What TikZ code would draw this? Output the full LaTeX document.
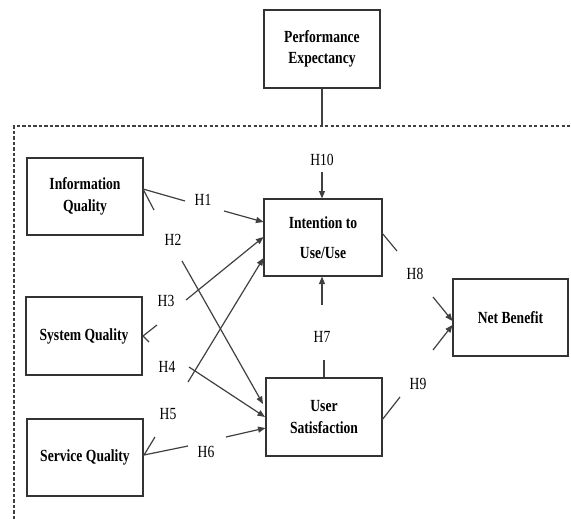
\documentclass[tikz,border=0pt]{standalone}
\usepackage{fontspec}
\setmainfont[FakeStretch=0.8]{Liberation Serif}
\usetikzlibrary{arrows.meta}
\begin{document}
\begin{tikzpicture}[x=1pt,y=-1pt,
  box/.style={draw=black!80,line width=1.2pt,inner sep=0pt,align=center,
    font=\fontsize{17}{21.5}\selectfont\bfseries},
  lbl/.style={inner sep=0pt,font=\fontsize{17}{20}\selectfont},
  ln/.style={draw=black!75,line width=1.2pt},
  arr/.style={ln,-{Triangle[length=7.5pt,width=6pt]}}]
\useasboundingbox (0,0) rectangle (571,519);
% boxes
\node[box,minimum width=116pt,minimum height=78pt] (pe) at (322,49) {Performance\\Expectancy};
\node[box,minimum width=116pt,minimum height=77pt] (iq) at (85,196.5) {Information\\Quality};
\node[box,minimum width=116pt,minimum height=78pt] (sq) at (84,336) {System Quality};
\node[box,minimum width=116pt,minimum height=77pt] (svq) at (85,457.5) {Service Quality};
\node[box,minimum width=118pt,minimum height=77pt] (itu) at (323,237.5) {Intention to\\[8pt]Use/Use};
\node[box,minimum width=116pt,minimum height=78pt] (us) at (324,417) {User\\Satisfaction};
\node[box,minimum width=115pt,minimum height=77pt] (nb) at (510.5,317.5) {Net Benefit};
% dashed frame
\coordinate (dtop) at (322,126);
\draw[draw=black!75,line width=1.1pt,dash pattern=on 3.2pt off 2.3pt] (14,519) -- (14,126) -- (571,126);
\draw[ln] (pe.south) -- (dtop);
% labels
\node[lbl] (h10) at (322,160) {H10};
\node[lbl] (h1) at (203,200) {H1};
\node[lbl] (h2) at (173,240) {H2};
\node[lbl] (h3) at (166,301) {H3};
\node[lbl] (h4) at (167,367) {H4};
\node[lbl] (h5) at (168,414) {H5};
\node[lbl] (h6) at (206,452) {H6};
\node[lbl] (h7) at (322,337) {H7};
\node[lbl] (h8) at (415,274) {H8};
\node[lbl] (h9) at (418,384) {H9};
% coordinates
\coordinate (iqp) at (143,189);
\coordinate (sqp) at (143,336);
\coordinate (svqp) at (144,455);
% connectors
\draw[arr] (322,172) -- (322,198.5);
\draw[ln] (iqp) -- (185,201);
\draw[ln] (iqp) -- (154,210);
\draw[arr] (224,211) -- (263.5,222);
\draw[arr] (182,261) -- (263,404);
\draw[arr] (186,300) -- (263.5,237);
\draw[ln] (157,325) -- (sqp) -- (149,342);
\draw[arr] (188,382) -- (263.5,258);
\draw[arr] (189,367) -- (265,417);
\draw[ln] (155,437) -- (svqp) -- (188,446);
\draw[arr] (226,437) -- (265.5,428);
\draw[ln] (us.north) -- (324,360);
\draw[arr] (322,305) -- (322,276.5);
\draw[ln] (382,233) -- (397,251);
\draw[arr] (433,297) -- (452.5,321);
\draw[arr] (433,350) -- (452.5,325);
\draw[ln] (382,420) -- (400,397);
\end{tikzpicture}
\end{document}
